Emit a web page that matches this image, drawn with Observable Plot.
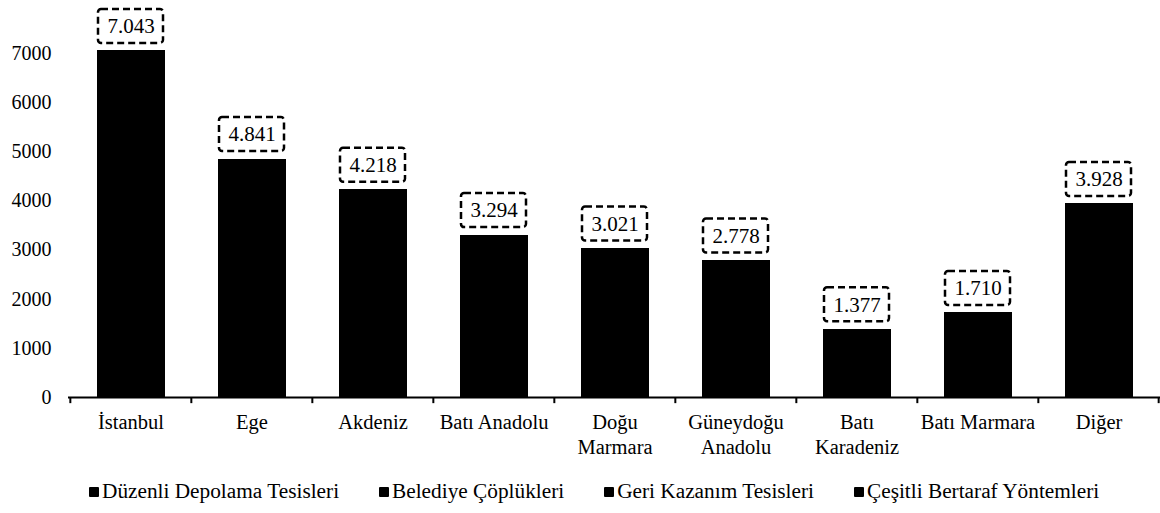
<!DOCTYPE html>
<html><head><meta charset="utf-8">
<script src="https://cdn.jsdelivr.net/npm/d3@7"></script>
<script src="https://cdn.jsdelivr.net/npm/@observablehq/plot@0.6"></script>
<style>
body{margin:0;background:#fff;font-family:"Liberation Serif","Tinos","DejaVu Serif",serif;}
#legend{display:flex;gap:40px;padding-left:89px;height:43px;align-items:center;font-size:21.3px;color:#000;white-space:nowrap;}
.sw{display:inline-block;width:10px;height:10px;background:#000;margin-right:3px;vertical-align:middle;position:relative;top:-1px;border-radius:1px;}
svg text{font-family:"Liberation Serif","Tinos","DejaVu Serif",serif;}
</style></head><body><div id="chart"></div><div id="legend"></div>
<script>
const regions = ["İstanbul","Ege","Akdeniz","Batı Anadolu","Doğu Marmara","Güneydoğu Anadolu","Batı Karadeniz","Batı Marmara","Diğer"];
const regionLabels = ["İstanbul","Ege","Akdeniz","Batı Anadolu","Doğu\nMarmara","Güneydoğu\nAnadolu","Batı\nKaradeniz","Batı Marmara","Diğer"];
const seriesNames = ["Düzenli Depolama Tesisleri","Belediye Çöplükleri","Geri Kazanım Tesisleri","Çeşitli Bertaraf Yöntemleri"];
const duzenliDepolama = [6520, 2900, 2800, 2700, 2100, 1300, 600, 1000, 1400];
const belediyeCoplukleri = [40, 1500, 1100, 400, 700, 1400, 720, 620, 2300];
const geriKazanim = [450, 350, 280, 170, 190, 50, 40, 70, 150];
const cesitliBertaraf = [33, 91, 38, 24, 31, 28, 17, 20, 78];
const totals = [7043, 4841, 4218, 3294, 3021, 2778, 1377, 1710, 3928];
const yTicks = [0, 1000, 2000, 3000, 4000, 5000, 6000, 7000];

const seriesValues = [duzenliDepolama, belediyeCoplukleri, geriKazanim, cesitliBertaraf];
const rows = [];
seriesNames.forEach((s, si) => regions.forEach((r, ri) => rows.push({region: r, series: s, value: seriesValues[si][ri]})));
const totalRows = regions.map((r, i) => ({region: r, total: totals[i]}));

const trFormat = d3.formatLocale({decimal: ",", thousands: ".", grouping: [3], currency: ["", ""]}).format(",d");
const labelOf = new Map(regions.map((r, i) => [r, regionLabels[i]]));

const W = 1160, ML = 68, step = (W - ML) / regions.length;
const serif = "'Liberation Serif', Tinos, 'DejaVu Serif', serif";

const chart = Plot.plot({
  width: W, height: 470,
  marginLeft: ML, marginRight: 0, marginTop: 53, marginBottom: 73,
  style: {fontFamily: serif, background: "#fff", color: "#000"},
  x: {domain: regions, paddingInner: 0.45, paddingOuter: 0.225, label: null},
  y: {domain: [0, 7000], label: null},
  marks: [
    Plot.barY(rows, {x: "region", y: "value", z: "series", order: seriesNames, fill: "#000", stroke: "#000", strokeWidth: 1, shapeRendering: "crispEdges"}),
    Plot.ruleY([0], {stroke: "#000", strokeWidth: 2}),
    Plot.ruleX(regions, {x: d => d, dx: -step / 2, y1: 0, y2: -125, stroke: "#000", strokeWidth: 2}),
    Plot.ruleX([regions[regions.length - 1]], {x: d => d, dx: step / 2 - 1, y1: 0, y2: -125, stroke: "#000", strokeWidth: 2}),
    Plot.barY(totalRows, {x: "region", y1: "total", y2: "total", insetTop: -42, insetBottom: 8, insetLeft: 1, insetRight: 1,
      fill: "#fff", stroke: "#000", strokeWidth: 2.5, strokeDasharray: "7,4", rx: 3}),
    Plot.text(totalRows, {x: "region", y: "total", text: d => trFormat(d.total), dy: -25, fontSize: 21, fill: "#000", fontFamily: serif}),
    Plot.axisY({ticks: yTicks, tickSize: 0, tickPadding: 17, fontSize: 20, tickFormat: d => String(d), label: null, fontFamily: serif}),
    Plot.axisX({tickSize: 0, tickPadding: 13, fontSize: 20.5, lineHeight: 1.25, tickFormat: d => labelOf.get(d), label: null, fontFamily: serif})
  ]
});
document.getElementById("chart").appendChild(chart);

const legend = document.getElementById("legend");
seriesNames.forEach(s => {
  const item = document.createElement("span");
  item.innerHTML = '<span class="sw"></span>' + s;
  legend.appendChild(item);
});
</script></body></html>
